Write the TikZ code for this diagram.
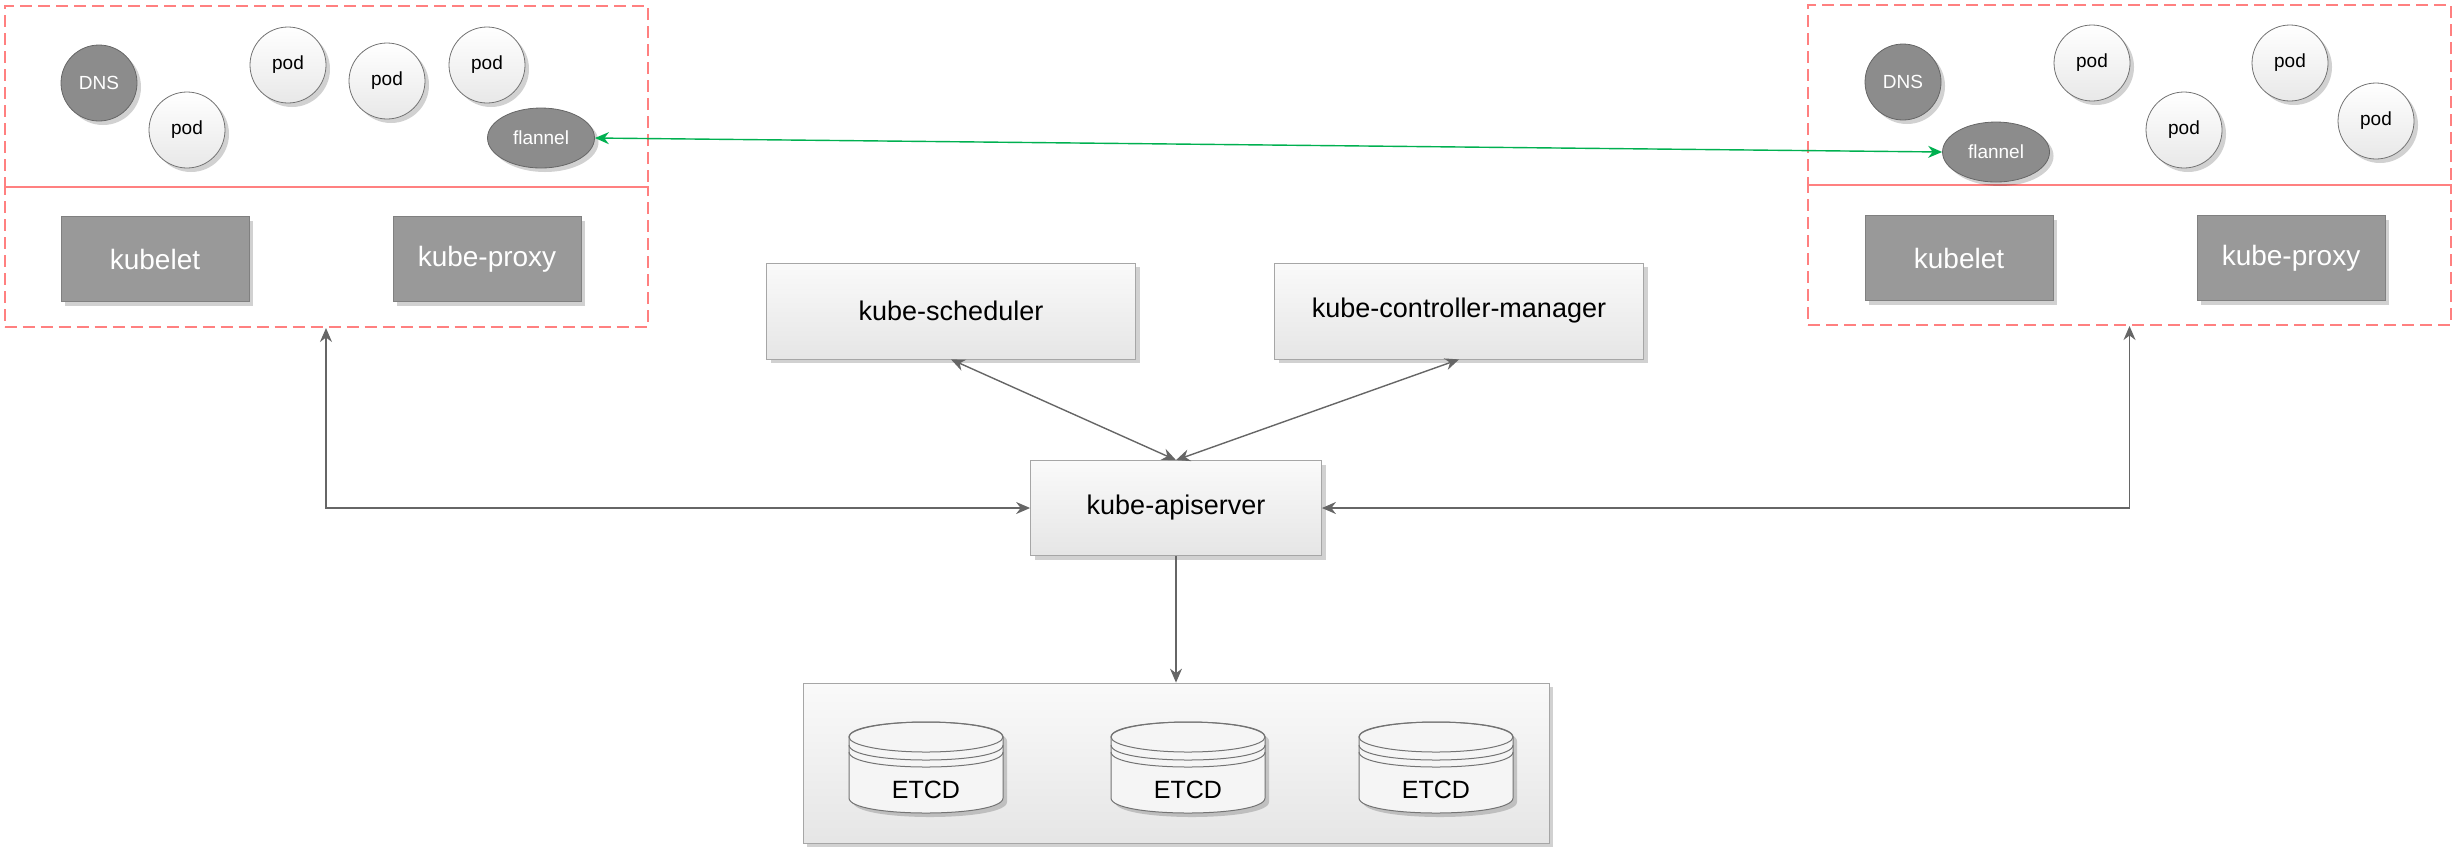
\documentclass[tikz,border=0pt]{standalone}
\usepackage{fontspec}
\setmainfont{Liberation Sans}
\usetikzlibrary{arrows.meta,shapes.geometric,shadows}

\begin{document}
\begin{tikzpicture}[x=0.5pt,y=-0.5pt,>={Stealth[length=7pt,width=6pt]},
	shad/.style={drop shadow={shadow xshift=2pt,shadow yshift=-2pt,opacity=0.18,fill=black}},
	redbox/.style={draw=red!50,dash pattern=on 6pt off 3pt,line width=1pt,minimum width=321.5pt,inner sep=0pt},
	pod/.style={circle,draw=black!55,top color=white,bottom color=black!9,minimum size=38pt,inner sep=0pt,font=\fontsize{9.5}{11}\selectfont,shad},
	dark/.style={circle,draw=black!60,fill=black!45,text=white,minimum size=38pt,inner sep=0pt,font=\fontsize{9.5}{11}\selectfont,shad},
	gbox/.style={rectangle,draw=black!50,fill=black!40,text=white,minimum width=94pt,minimum height=42.5pt,font=\fontsize{14}{16}\selectfont,shad},
	lbox/.style={rectangle,draw=black!35,top color=black!2,bottom color=black!10,minimum width=184.5pt,minimum height=48pt,font=\fontsize{13.5}{16}\selectfont,shad},
	conn/.style={draw=black!60,line width=0.7pt,<->},
	cyl/.style={draw=black!55,line width=0.5pt}]
			\useasboundingbox (0,0) rectangle (2456,848);
			\node[redbox,minimum height=90.5pt] (lup) at (326,96.5) {};
			\node[redbox,minimum height=70pt] (lbot) at (326,257) {};
			\node[redbox,minimum height=90pt] (rup) at (2129.5,95) {};
			\node[redbox,minimum height=70pt] (rbot) at (2129.5,255) {};
			\node[dark] (ldns) at (99,83) {DNS};
			\node[pod] (lpa) at (187,130) {pod};
			\node[pod] (lpb) at (288,65) {pod};
			\node[pod] (lpc) at (387,81) {pod};
			\node[pod] (lpd) at (487,65) {pod};
			\node[dark,ellipse,minimum width=53.5pt,minimum height=30pt] (lfl) at (541,138) {flannel};
			\node[gbox] (lkubelet) at (155,259) {kubelet};
			\node[gbox] (lproxy) at (487,259) {kube-proxy};
			\node[dark] (rdns) at (1903,82) {DNS};
			\node[pod] (rpa) at (2092,63) {pod};
			\node[pod] (rpb) at (2184,130) {pod};
			\node[pod] (rpc) at (2290,63) {pod};
			\node[pod] (rpd) at (2376,121) {pod};
			\node[dark,ellipse,minimum width=53.5pt,minimum height=30pt] (rfl) at (1996,152) {flannel};
			\node[gbox] (rkubelet) at (1959,258) {kubelet};
			\node[gbox] (rproxy) at (2291,258) {kube-proxy};
			\node[lbox] (sched) at (951,311) {kube-scheduler};
			\node[lbox] (ctrl) at (1459,311) {kube-controller-manager};
			\node[lbox,minimum width=145.5pt,minimum height=47.5pt] (api) at (1176,508) {kube-apiserver};
			\node[lbox,minimum width=373pt,minimum height=80pt] (etcd) at (1176,763) {};
			\foreach \i/\cx in {1/926,2/1188,3/1436}{
				\path[cyl,fill=black!4,shad] (\cx-77,737) -- (\cx-77,798) .. controls (\cx-77,818) and (\cx+77,818) .. (\cx+77,798) -- (\cx+77,737) .. controls (\cx+77,717) and (\cx-77,717) .. cycle;
				\draw[cyl] (\cx,737) ellipse[x radius=77,y radius=15];
				\draw[cyl] (\cx-77,745) .. controls (\cx-77,765) and (\cx+77,765) .. (\cx+77,745);
				\draw[cyl] (\cx-77,752) .. controls (\cx-77,772) and (\cx+77,772) .. (\cx+77,752);
				\node[font=\fontsize{12.5}{14}\selectfont] (e\i) at (\cx,790) {ETCD};
			}
			\draw[conn,draw={rgb,255:red,0;green,176;blue,80},fill={rgb,255:red,0;green,176;blue,80}](lfl.east)--(rfl.west);
			\draw[conn](sched.south)--(api.north);
			\draw[conn](ctrl.south)--(api.north);
			\draw[conn](api.west)-|(lbot.south);
			\draw[conn](api.east)-|(rbot.south);
			\draw[conn,->](api.south)--(etcd.north);
		\end{tikzpicture}
\end{document}
